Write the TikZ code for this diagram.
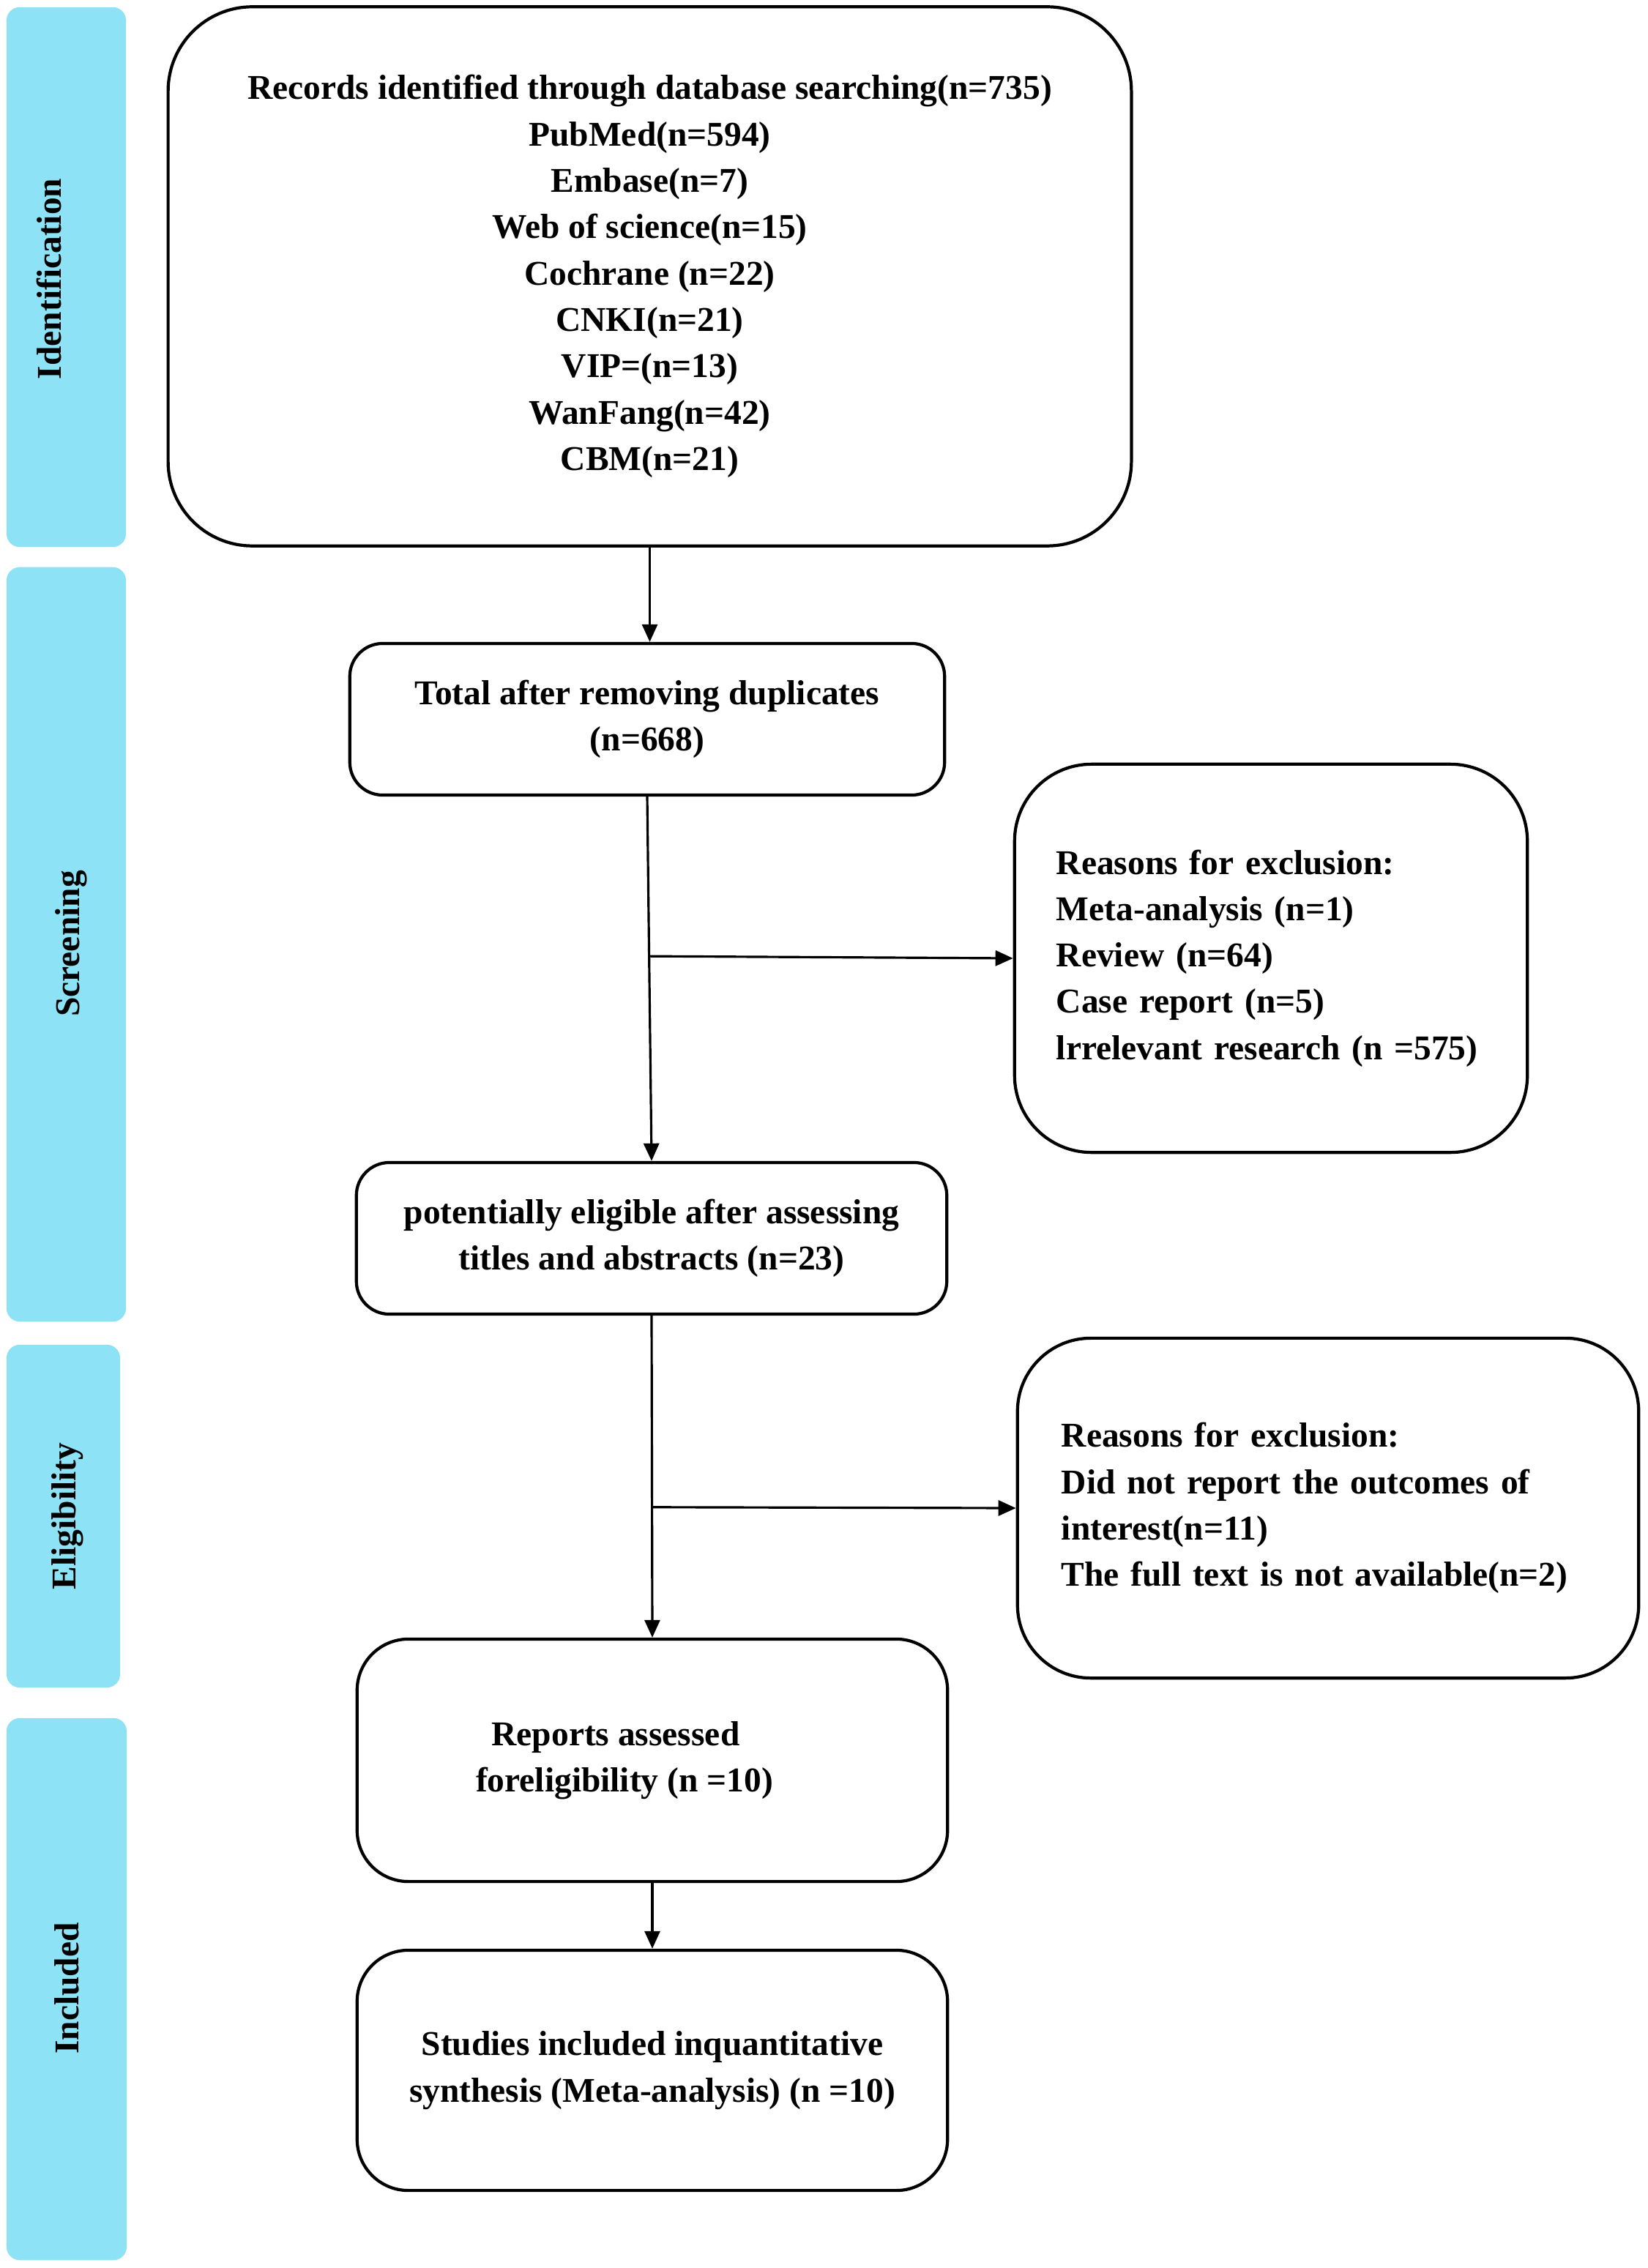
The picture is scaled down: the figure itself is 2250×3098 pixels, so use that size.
\documentclass[tikz,border=0pt]{standalone}
\usepackage{fontspec}
\setmainfont{Liberation Serif}
\usetikzlibrary{arrows.meta,calc}
\definecolor{barcyan}{HTML}{8DE3F5}
\begin{document}
\begin{tikzpicture}[x=0.01cm,y=-0.01cm,
  every node/.style={font=\fontsize{13.5pt}{18pt}\selectfont\bfseries},
  bar/.style={fill=barcyan,draw=none,rounded corners=0.18cm,inner sep=0pt},
  sidelabel/.style={rotate=90,anchor=base,inner sep=0pt},
  box/.style={draw=black,line width=1.2pt,fill=white,align=center,inner sep=0pt},
  exbox/.style={draw=black,line width=1.2pt,fill=white,align=left,inner ysep=0pt},
  arr/.style={line width=0.9pt,-{Triangle[length=0.24cm,width=0.21cm]}}]
\useasboundingbox (0,0) rectangle (2250,3098);
\fill[white] (0,0) rectangle (2250,3098);
% side bars
\node[bar,minimum width=1.63cm,minimum height=7.37cm] (barid) at (90.5,378.5) {};
\node[bar,minimum width=1.63cm,minimum height=10.30cm] (barsc) at (90.5,1290) {};
\node[bar,minimum width=1.55cm,minimum height=4.68cm] (barel) at (86.5,2071) {};
\node[bar,minimum width=1.64cm,minimum height=7.40cm] (barin) at (91,2717) {};
\node[sidelabel] (lid) at (83,381) {Identification};
\node[sidelabel] (lsc) at (108,1289) {Screening};
\node[sidelabel] (lel) at (103,2071) {Eligibility};
\node[sidelabel] (lin) at (107,2716) {Included};
% boxes
\node[box,rounded corners=1.15cm,minimum width=13.15cm,minimum height=7.36cm] (top) at (887.5,377.5)
 {Records identified through database searching(n=735)\\PubMed(n=594)\\Embase(n=7)\\Web of science(n=15)\\Cochrane (n=22)\\CNKI(n=21)\\VIP=(n=13)\\WanFang(n=42)\\CBM(n=21)};
\node[box,rounded corners=0.45cm,minimum width=8.12cm,minimum height=2.07cm] (total) at (884,982.5)
 {Total after removing duplicates\\(n=668)};
\node[exbox,rounded corners=1.05cm,text width=5.86cm,inner xsep=0.57cm,minimum height=5.30cm] (ex1) at (1736,1309)
 {Reasons for exclusion:\\Meta-analysis (n=1)\\Review (n=64)\\Case report (n=5)\\lrrelevant research (n =575)};
\node[box,rounded corners=0.45cm,minimum width=8.06cm,minimum height=2.07cm] (pot) at (890,1691.5)
 {potentially eligible after assessing\\titles and abstracts (n=23)};
\node[exbox,rounded corners=1.0cm,text width=7.28cm,inner xsep=0.60cm,minimum height=4.64cm] (ex2) at (1814,2060)
 {Reasons for exclusion:\\Did not report the outcomes of\\interest(n=11)\\The full text is not available(n=2)};
\node[box,rounded corners=0.7cm,minimum width=8.06cm,minimum height=3.31cm] (rep) at (891,2404.5)
 {Reports assessed\hspace*{1.0cm}\\foreligibility (n =10)\hspace*{0.76cm}};
\node[box,rounded corners=0.7cm,minimum width=8.06cm,minimum height=3.28cm] (stu) at (891,2828)
 {Studies included inquantitative\\synthesis (Meta-analysis) (n =10)};
% connectors
\draw[arr] (top.south) -- (top.south |- total.north);
\draw[arr] (total.south) -- (pot.north);
\coordinate (b1) at ($(total.south)!0.438!(pot.north)$);
\draw[arr] (b1) -- (ex1.west);
\draw[arr] (pot.south) -- (rep.north);
\coordinate (b2) at ($(pot.south)!0.595!(rep.north)$);
\draw[arr] (b2) -- (ex2.west);
\draw[arr] (rep.south) -- (stu.north);
\end{tikzpicture}
\end{document}
